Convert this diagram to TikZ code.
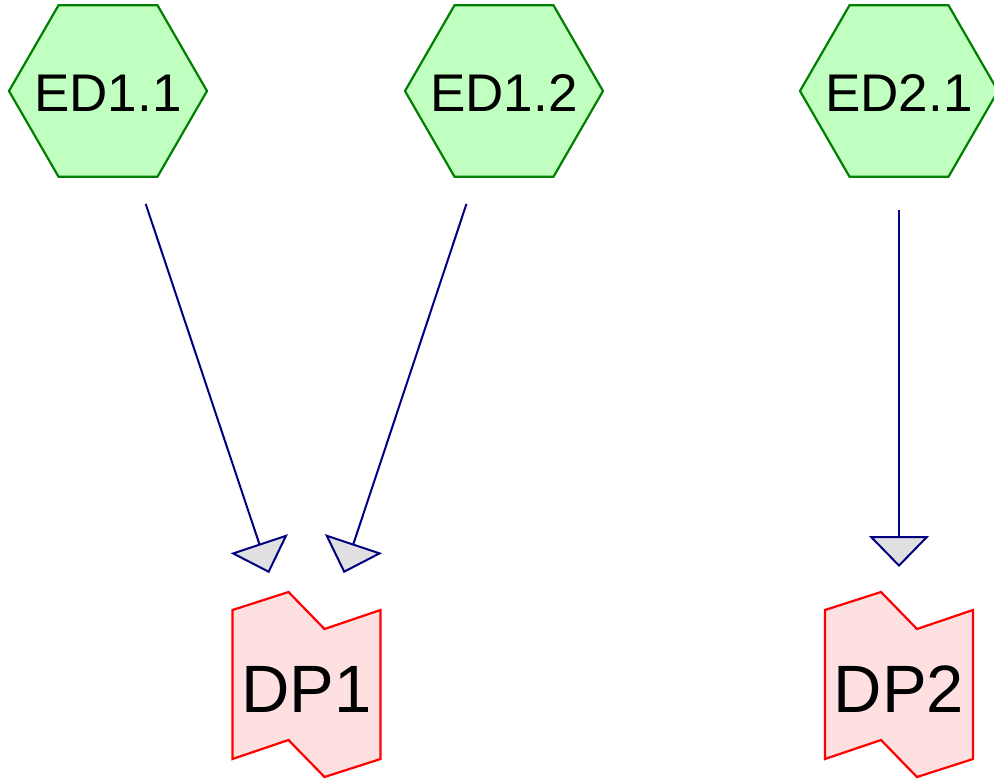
\documentclass[tikz,border=0pt]{standalone}
\usepackage{fontspec}
\setmainfont{Liberation Sans}
\usetikzlibrary{arrows.meta,calc}
\definecolor{edfill}{HTML}{C0FFC0}
\definecolor{edline}{HTML}{007F00}
\definecolor{dpfill}{HTML}{FFE0E0}
\definecolor{dpline}{HTML}{FF0000}
\definecolor{conn}{HTML}{000080}
\definecolor{tipfill}{HTML}{E0E0E0}
\tikzset{
  edshape/.style={draw=edline, fill=edfill, line width=2.2pt, line join=miter},
  edlabel/.style={inner sep=0pt, font=\fontsize{53}{60}\selectfont},
  dpshape/.style={draw=dpline, fill=dpfill, line width=2.2pt, line join=miter},
  dplabel/.style={inner sep=0pt, font=\fontsize{67}{75}\selectfont},
  flow/.style={draw=conn, line width=2pt, shorten <=119pt, shorten >=118pt,
    -{Triangle[length=31pt, width=60pt, fill=tipfill, line join=miter]}}
}
\begin{document}
\begin{tikzpicture}[x=1pt,y=-1pt]
\useasboundingbox (0,0) rectangle (994,780);
\coordinate (ed11) at (108,91);
\coordinate (ed12) at (504,91);
\coordinate (ed21) at (899,91);
\coordinate (dp1) at (306.5,685);
\coordinate (dp2) at (899,685);
\foreach \c in {ed11,ed12,ed21}{
  \draw[edshape, shift={(\c)}] (-99,0) -- (-49.5,-85.7) -- (49.5,-85.7) -- (99,0)
    -- (49.5,85.7) -- (-49.5,85.7) -- cycle;
}
\foreach \c in {dp1,dp2}{
  \draw[dpshape, shift={(\c)}] (-74,-75) -- (-18,-93) -- (18,-56) -- (74,-75)
    -- (74,74) -- (18,92) -- (-18,55) -- (-74,74) -- cycle;
}
\node[edlabel] (ed11lbl) at ($(ed11)+(0,2)$) {ED1.1};
\node[edlabel] (ed12lbl) at ($(ed12)+(0,2)$) {ED1.2};
\node[edlabel] (ed21lbl) at ($(ed21)+(0,2)$) {ED2.1};
\node[dplabel] (dp1lbl) at ($(dp1)+(0,4)$) {DP1};
\node[dplabel] (dp2lbl) at ($(dp2)+(0,4)$) {DP2};
\draw[flow] (ed11) -- (dp1);
\draw[flow] (ed12) -- (dp1);
\draw[flow] (ed21) -- (dp2);
\end{tikzpicture}
\end{document}
